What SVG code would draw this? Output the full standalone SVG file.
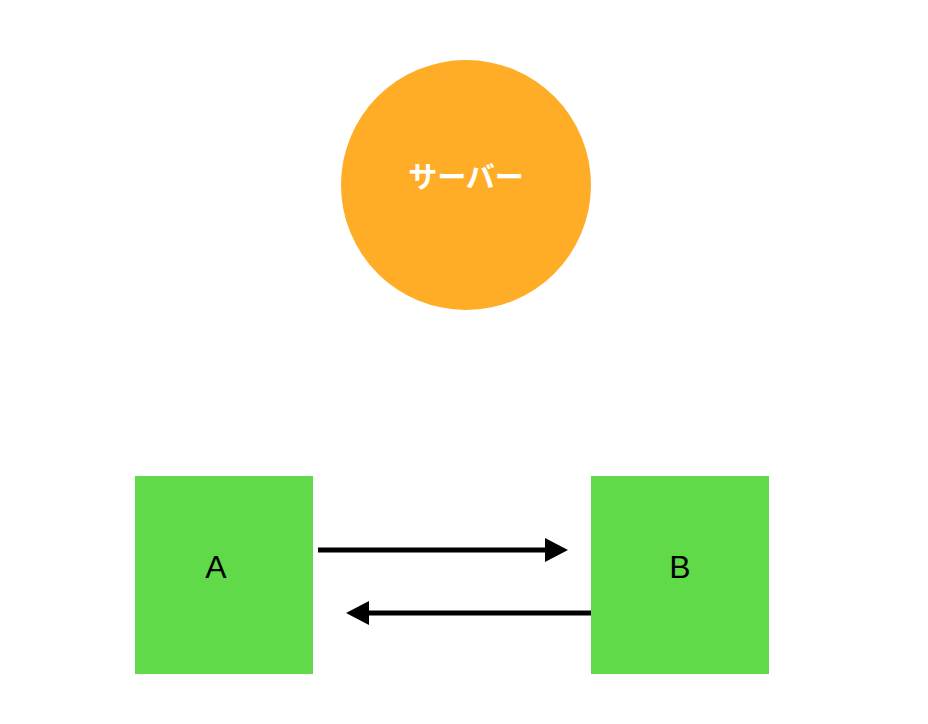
<svg xmlns="http://www.w3.org/2000/svg" width="928" height="724" viewBox="0 0 928 724">
<style>
.box{fill:#61DA4A}
.lbl{font-family:"Liberation Sans",Arial,sans-serif;font-size:32px;fill:#000}
.jp{font-family:"Noto Sans CJK JP",sans-serif;font-size:29px;font-weight:bold;fill:#fff}
.edge{stroke:#000;stroke-width:5;fill:none}
</style>
<defs>
<marker id="ah" markerUnits="userSpaceOnUse" markerWidth="24" markerHeight="24" refX="0" refY="12" orient="auto" overflow="visible">
<path d="M0,0 L23,12 L0,24 Z" fill="#000"/>
</marker>
</defs>
<rect width="928" height="724" fill="#fff"/>
<g id="server">
<circle cx="466" cy="185" r="125" fill="#FFAC26"/>
<text class="jp" x="466" y="188" text-anchor="middle">サーバー</text>
</g>
<g id="A">
<rect class="box" x="135" y="476" width="178" height="198"/>
<text class="lbl" x="216" y="578" text-anchor="middle">A</text>
</g>
<g id="B">
<rect class="box" x="591" y="476" width="178" height="198"/>
<text class="lbl" x="680" y="578" text-anchor="middle">B</text>
</g>
<g id="connectors">
<line class="edge" x1="318" y1="550" x2="545" y2="550" marker-end="url(#ah)"/>
<line class="edge" x1="591" y1="613" x2="369" y2="613" marker-end="url(#ah)"/>
</g>
</svg>
